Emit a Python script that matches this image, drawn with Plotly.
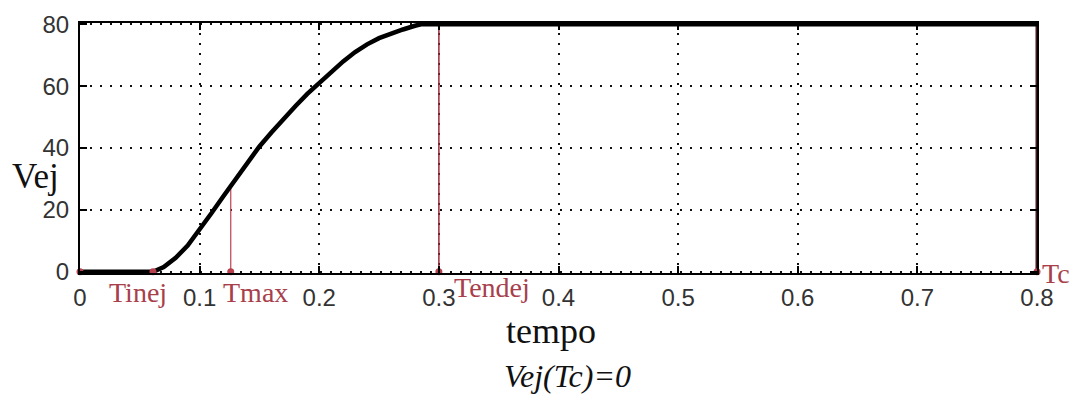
import plotly.graph_objects as go

# Ejection velocity profile over time
tempo = [0, 0.02, 0.04, 0.061, 0.07, 0.08, 0.09, 0.10, 0.11, 0.12, 0.13, 0.14,
         0.15, 0.16, 0.17, 0.18, 0.19, 0.20, 0.21, 0.22, 0.23, 0.24, 0.25,
         0.26, 0.27, 0.28, 0.285, 0.30, 0.40, 0.50, 0.60, 0.70, 0.80]
vej = [0, 0, 0, 0, 1.5, 4.5, 8.5, 13.5, 19, 24.5, 30, 35.5,
       40.5, 45, 49.5, 53.5, 57.5, 61, 64.5, 68, 71, 73.5, 75.5,
       77, 78.3, 79.5, 80, 80, 80, 80, 80, 80, 80]

# Event instants and the velocity at each of them
event_names = ["Tinej", "Tmax", "Tendej", "Tc"]
event_t = [0.061, 0.126, 0.30, 0.80]
event_v = [0, 28, 80, 80]

x_ticks = [0, 0.1, 0.2, 0.3, 0.4, 0.5, 0.6, 0.7, 0.8]
x_tick_text = ["0", "0.1", "0.2", "0.3", "0.4", "0.5", "0.6", "0.7", "0.8"]
y_ticks = [0, 20, 40, 60, 80]

stem_styles = [("#c05060", 1.3), ("#c05060", 1.3), ("#9a2a3a", 1.5), ("#4a1420", 3)]
label_color = "#a8404c"

fig = go.Figure()

# Vertical stems from the time axis up to the velocity at each event
for t, v, (c, w) in zip(event_t, event_v, stem_styles):
    fig.add_trace(go.Scatter(
        x=[t, t], y=[0, v], mode="lines",
        line=dict(color=c, width=w),
        hoverinfo="skip", showlegend=False))

# Velocity curve
fig.add_trace(go.Scatter(
    x=tempo, y=vej, mode="lines",
    line=dict(color="#000000", width=4.5),
    showlegend=False))

# Base markers on the time axis
fig.add_trace(go.Scatter(
    x=[0] + event_t, y=[0] * (len(event_t) + 1), mode="markers",
    marker=dict(color="#b8404c", size=7),
    cliponaxis=False, hoverinfo="skip", showlegend=False))

# Event labels (paper coordinates, placed just under the axis)
label_pos = {"Tinej": (0.0606, -0.076), "Tmax": (0.183, -0.076),
             "Tendej": (0.431, -0.056), "Tc": (1.0199, 0.0)}
for name in event_names:
    px, py = label_pos[name]
    fig.add_annotation(xref="paper", yref="paper", x=px, y=py, text=name,
                       showarrow=False, xanchor="center", yanchor="middle",
                       font=dict(family="Liberation Serif", size=28, color=label_color))

axis_common = dict(
    showline=True, linecolor="#000", linewidth=2, mirror="allticks",
    ticks="inside", ticklen=7, tickcolor="#000", tickwidth=1.5,
    showgrid=True, gridcolor="#111", griddash="2px,8px", gridwidth=2,
    zeroline=False,
    tickfont=dict(family="Liberation Sans", size=24, color="#333"))

fig.update_xaxes(range=[0, 0.8], tickvals=x_ticks, ticktext=x_tick_text,
                 ticklabelstandoff=2, **axis_common)
fig.update_yaxes(range=[-0.4, 80.4], tickvals=y_ticks,
                 ticklabelstandoff=4, **axis_common)

fig.add_annotation(xref="paper", yref="paper", x=-0.047, y=0.388, text="Vej",
                   showarrow=False, xanchor="center", yanchor="middle",
                   font=dict(family="Liberation Serif", size=35, color="#111"))
fig.add_annotation(xref="paper", yref="paper", x=0.492, y=-0.232, text="tempo",
                   showarrow=False, xanchor="center", yanchor="middle",
                   font=dict(family="Liberation Serif", size=36, color="#111"))
fig.add_annotation(xref="paper", yref="paper", x=0.509, y=-0.41, text="<i>Vej(Tc)=0</i>",
                   showarrow=False, xanchor="center", yanchor="middle",
                   font=dict(family="Liberation Serif", size=32, color="#111"))

fig.update_layout(
    width=1075, height=396,
    margin=dict(l=80, r=38, t=23, b=123),
    paper_bgcolor="#ffffff", plot_bgcolor="#ffffff",
    showlegend=False)

fig.write_html("out.html")
